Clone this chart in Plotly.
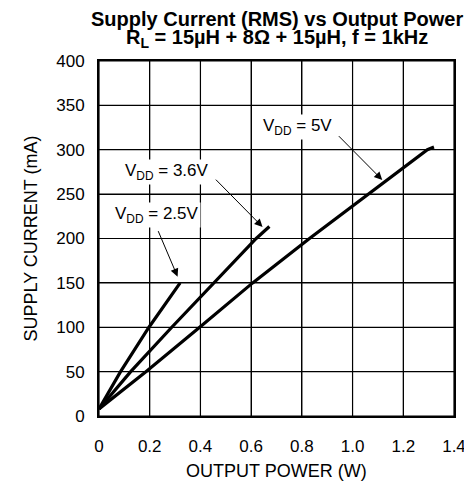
import plotly.graph_objects as go

# Data
p_25 = [0.0, 0.085, 0.197, 0.26, 0.32]
i_25 = [8, 50, 100, 126, 150]
p_36 = [0.0, 0.125, 0.287, 0.452, 0.62, 0.672]
i_36 = [8, 50, 100, 150, 200, 213.5]
p_50 = [0.0, 0.185, 0.397, 0.606, 0.83, 1.062, 1.295, 1.321]
i_50 = [8, 50, 100, 150, 200, 250, 300, 303]

x_ticks = [0, 0.2, 0.4, 0.6, 0.8, 1.0, 1.2, 1.4]
x_tick_labels = ["0", "0.2", "0.4", "0.6", "0.8", "1.0", "1.2", "1.4"]
y_ticks = [0, 50, 100, 150, 200, 250, 300, 350, 400]

FONT = "Liberation Sans, Arial, sans-serif"
X_RANGE = [x_ticks[0], x_ticks[-1]]
Y_RANGE = [y_ticks[0], y_ticks[-1]]

fig = go.Figure()

# Grid lines at the tick values
for t in x_ticks:
    fig.add_shape(type="line", xref="x", yref="paper", x0=t, x1=t, y0=0, y1=1,
                  line=dict(color="black", width=1.2), layer="below")
for t in y_ticks:
    fig.add_shape(type="line", xref="paper", yref="y", x0=0, x1=1, y0=t, y1=t,
                  line=dict(color="black", width=1.2), layer="below")

for xs, ys in [(p_25, i_25), (p_36, i_36), (p_50, i_50)]:
    fig.add_trace(go.Scatter(x=xs, y=ys, mode="lines",
                             line=dict(color="black", width=3.2),
                             showlegend=False, hoverinfo="skip"))

labels = [
    ("V<sub>DD</sub> = 5V", 0.784, 326, 0.94, 317, 1.117, 266),
    ("V<sub>DD</sub> = 3.6V", 0.268, 275, 0.455, 268, 0.645, 213),
    ("V<sub>DD</sub> = 2.5V", 0.229, 227, 0.231, 210, 0.31, 157),
]
for text, tx, ty, ax0, ay0, hx, hy in labels:
    fig.add_annotation(x=tx, y=ty, text=text, showarrow=False,
                       xanchor="center", yanchor="middle",
                       font=dict(family=FONT, size=17, color="black"),
                       bgcolor="white", borderpad=1)
    fig.add_annotation(x=hx, y=hy, ax=ax0, ay=ay0, axref="x", ayref="y",
                       xref="x", yref="y", text="", showarrow=True,
                       arrowhead=2, arrowsize=1.6, arrowwidth=1, arrowcolor="black")

fig.update_layout(
    width=472, height=495,
    margin=dict(l=91, r=26, t=53, b=87),
    paper_bgcolor="white", plot_bgcolor="white",
    font=dict(family=FONT, size=17, color="black"),
)

axis_common = dict(showgrid=True, gridcolor="black", gridwidth=1,
                   showline=True, linecolor="black", linewidth=2, mirror=True,
                   zeroline=False, tickfont=dict(size=17))
fig.update_xaxes(range=X_RANGE, tickmode="array", tickvals=x_ticks, ticktext=x_tick_labels,
                 ticks="outside", ticklen=14, tickcolor="white",
                 **axis_common)
fig.update_yaxes(range=Y_RANGE, tickmode="array", tickvals=y_ticks,
                 ticks="outside", ticklen=9, tickcolor="white",
                 **axis_common)

# Title and axis titles as paper annotations
fig.add_annotation(xref="paper", yref="paper", x=0.5, y=1, yshift=42,
                   xanchor="center", yanchor="middle",
                   text="<b>Supply Current (RMS) vs Output Power</b>",
                   showarrow=False, font=dict(family=FONT, size=20))
fig.add_annotation(xref="paper", yref="paper", x=0.5, y=1, yshift=23,
                   xanchor="center", yanchor="middle",
                   text="<b>R<sub>L</sub> = 15µH + 8Ω + 15µH, f = 1kHz</b>",
                   showarrow=False, font=dict(family=FONT, size=20))
fig.add_annotation(xref="paper", yref="paper", x=0.5, y=0, yshift=-55,
                   xanchor="center", yanchor="middle",
                   text="OUTPUT POWER (W)", showarrow=False,
                   font=dict(family=FONT, size=18))
fig.add_annotation(xref="paper", yref="paper", x=0, y=0.5, xshift=-69,
                   xanchor="center", yanchor="middle",
                   text="SUPPLY CURRENT (mA)", textangle=-90, showarrow=False,
                   font=dict(family=FONT, size=18))

fig.write_html("out.html")
